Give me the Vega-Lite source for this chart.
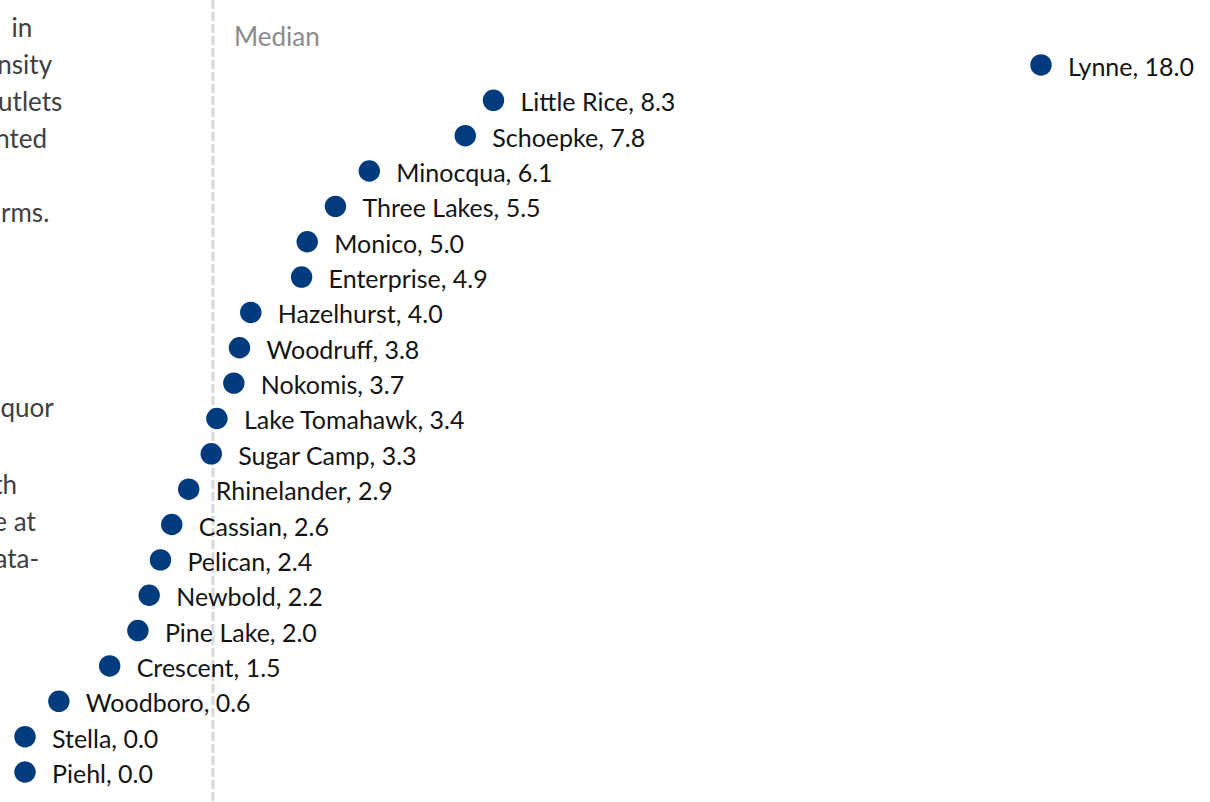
{
  "$schema": "https://vega.github.io/schema/vega-lite/v6.json",
  "width": 1210,
  "height": 802,
  "autosize": {"type": "none"},
  "padding": 0,
  "background": "white",
  "config": {"view": {"stroke": null}},
  "layer": [
    {
      "layer": [
        {
          "data": {"values": [{"median": 3.33}]},
          "mark": {"type": "rule", "color": "#d9d9d9", "strokeWidth": 3, "strokeDash": [9, 3]},
          "encoding": {
            "x": {"field": "median", "type": "quantitative", "scale": {"domain": [0, 18], "range": [25, 1041], "zero": false, "nice": false}, "axis": null}
          }
        },
        {
          "data": {"values": [{"town": "Median", "median": 3.33}]},
          "mark": {"type": "text", "align": "left", "baseline": "middle", "dx": 21, "dy": 8, "font": "Lato", "fontSize": 26, "color": "#8c8c8c"},
          "encoding": {
            "x": {"field": "median", "type": "quantitative", "axis": null},
            "y": {"field": "town", "type": "ordinal", "axis": null},
            "text": {"value": "Median"}
          }
        },
        {
          "data": {"values": [
            {"town": "Lynne", "value": 18.0},
            {"town": "Little Rice", "value": 8.3},
            {"town": "Schoepke", "value": 7.8},
            {"town": "Minocqua", "value": 6.1},
            {"town": "Three Lakes", "value": 5.5},
            {"town": "Monico", "value": 5.0},
            {"town": "Enterprise", "value": 4.9},
            {"town": "Hazelhurst", "value": 4.0},
            {"town": "Woodruff", "value": 3.8},
            {"town": "Nokomis", "value": 3.7},
            {"town": "Lake Tomahawk", "value": 3.4},
            {"town": "Sugar Camp", "value": 3.3},
            {"town": "Rhinelander", "value": 2.9},
            {"town": "Cassian", "value": 2.6},
            {"town": "Pelican", "value": 2.4},
            {"town": "Newbold", "value": 2.2},
            {"town": "Pine Lake", "value": 2.0},
            {"town": "Crescent", "value": 1.5},
            {"town": "Woodboro", "value": 0.6},
            {"town": "Stella", "value": 0.0},
            {"town": "Piehl", "value": 0.0}
          ]},
          "transform": [{"calculate": "datum.town + ', ' + format(datum.value, '.1f')", "as": "label"}],
          "encoding": {
            "x": {"field": "value", "type": "quantitative", "axis": null},
            "y": {"field": "town", "type": "ordinal", "axis": null,
              "scale": {"type": "point", "padding": 0, "range": [29.6, 772],
                "domain": ["Median", "Lynne", "Little Rice", "Schoepke", "Minocqua", "Three Lakes", "Monico", "Enterprise", "Hazelhurst", "Woodruff", "Nokomis", "Lake Tomahawk", "Sugar Camp", "Rhinelander", "Cassian", "Pelican", "Newbold", "Pine Lake", "Crescent", "Woodboro", "Stella", "Piehl"]}}
          },
          "layer": [
            {"mark": {"type": "circle", "size": 460, "opacity": 1, "color": "#003C7D"}},
            {"mark": {"type": "text", "align": "left", "baseline": "middle", "dx": 27, "dy": 3, "font": "Lato", "fontSize": 25, "color": "#141414"},
             "encoding": {"text": {"field": "label"}}}
          ]
        }
      ]
    },
    {
      "data": {"values": [
        {"frag": "in", "line": 0, "xend": 0.13},
        {"frag": "nsity", "line": 1, "xend": 0.48},
        {"frag": "utlets", "line": 2, "xend": 0.66},
        {"frag": "nted", "line": 3, "xend": 0.39},
        {"frag": "rms.", "line": 5, "xend": 0.43},
        {"frag": "quor", "line": 10.27, "xend": 0.51},
        {"frag": "th", "line": 12.35, "xend": -0.14},
        {"frag": "e at", "line": 13.35, "xend": 0.19},
        {"frag": "ata-", "line": 14.35, "xend": 0.25}
      ]},
      "mark": {"type": "text", "align": "right", "baseline": "middle", "dy": 2, "font": "Lato", "fontSize": 26, "color": "#404040"},
      "encoding": {
        "x": {"field": "xend", "type": "quantitative", "axis": null},
        "y": {"field": "line", "type": "quantitative", "axis": null, "scale": {"domain": [-0.73, 20.95], "range": [0, 802], "zero": false, "nice": false}},
        "text": {"field": "frag"}
      }
    }
  ],
  "resolve": {"scale": {"y": "independent"}}
}
